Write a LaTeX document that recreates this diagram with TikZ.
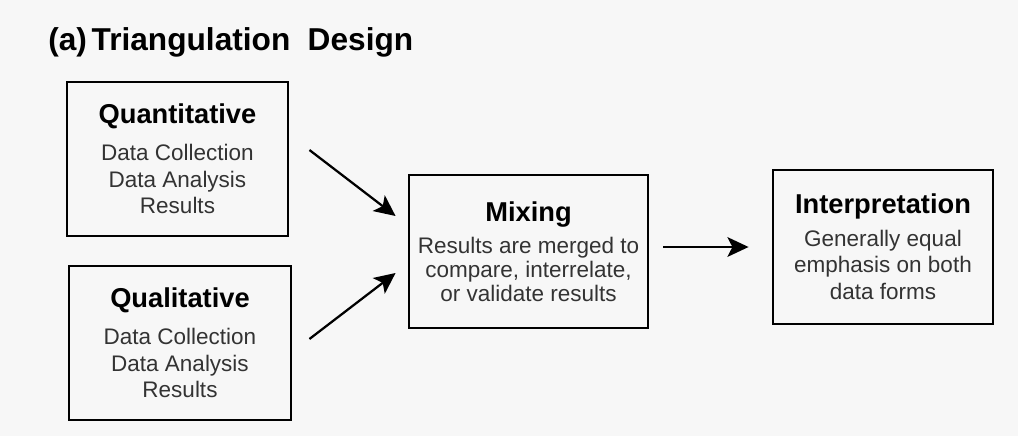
\documentclass[tikz,border=0pt]{standalone}
\usepackage{fontspec}
\setmainfont{Liberation Sans}
\usetikzlibrary{arrows, arrows.meta}
\tikzset{block/.style = {shape = rectangle, draw, line width = 2pt, align = center, inner sep = 0pt, text = black!80, font = \fontsize{16}{19}\selectfont}}
\tikzset{flow/.style = {-{Stealth[length = 15pt, width = 14pt, inset = 3.5pt]}, line width = 1.6pt}}
\newcommand{\boxhead}[1]{{\bfseries\fontsize{19.4}{23}\selectfont\color{black}#1}}

\begin{document}
\begin{tikzpicture}[x = 0.025cm, y = -0.025cm]
				\fill[black!3] (0, 0) rectangle (1018, 436);
				\useasboundingbox (0, 0) rectangle (1018, 436);

				\node[anchor = base west, inner sep = 0pt, font = \bfseries\fontsize{22.5}{27}\selectfont] (title) at (48, 50) {(a)\hspace{0.15em}Triangulation\hspace{0.55em}Design};

				\node[block, minimum width = 5.525cm, minimum height = 3.85cm] (quan) at (177.5, 159) {\boxhead{Quantitative}\\[7pt] Data Collection\\ Data Analysis\\ Results};
				\node[block, minimum width = 5.55cm, minimum height = 3.85cm] (qual) at (180, 343) {\boxhead{Qualitative}\\[7pt] Data Collection\\ Data Analysis\\ Results};
				\node[block, minimum width = 5.975cm, minimum height = 3.825cm, font = \fontsize{16}{17}\selectfont] (mix) at (528.5, 251.5) {\boxhead{Mixing}\\[6pt] Results are merged to\\ compare, interrelate,\\ or validate results};
				\node[block, minimum width = 5.5cm, minimum height = 3.85cm] (interp) at (883, 247) {\boxhead{Interpretation}\\[4pt] Generally equal\\ emphasis on both\\ data forms};

				\draw[flow] ([shift = {(20, -9)}]quan.east) to ([shift = {(-12, -35.5)}]mix.west);
				\draw[flow] ([shift = {(17, -4)}]qual.east) to ([shift = {(-12, 21.5)}]mix.west);
				\draw[flow] ([shift = {(14, -4.5)}]mix.east) to ([shift = {(-23, 0)}]interp.west);
			\end{tikzpicture}
\end{document}
